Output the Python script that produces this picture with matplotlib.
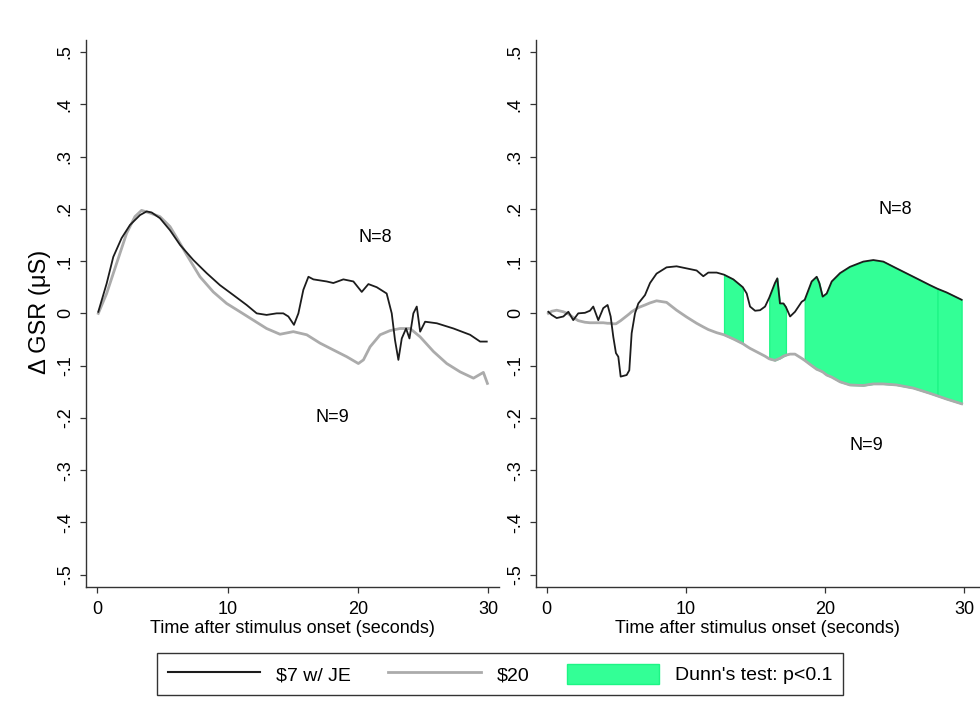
import numpy as np
import matplotlib
matplotlib.use("Agg")
import matplotlib.pyplot as plt
from matplotlib.lines import Line2D
from matplotlib.patches import Patch

plt.rcParams['font.family'] = ['Liberation Sans', 'DejaVu Sans']

# ---- left panel: without significance shading ----
left_t_je = [0.08, 0.72, 1.23, 1.87, 2.51, 3.28, 3.79, 4.17, 4.81, 5.58, 6.35, 7.37,
             8.39, 9.41, 10.44, 11.46, 12.23, 12.99, 13.76, 14.27, 14.66, 15.09, 15.43,
             15.81, 16.2, 16.58, 17.6, 18.11, 18.88, 19.65, 20.29, 20.8, 21.44, 22.2,
             22.59, 22.84, 23.1, 23.36, 23.69, 23.95, 24.25, 24.51, 24.77, 25.15, 26.05,
             27.33, 28.6, 29.37, 29.88]
left_je = [0.003, 0.057, 0.108, 0.144, 0.169, 0.188, 0.195, 0.193, 0.182, 0.159, 0.131,
           0.102, 0.077, 0.054, 0.035, 0.016, 0.0, -0.003, 0.0, 0.0, -0.006, -0.022, 0.0,
           0.045, 0.070, 0.065, 0.061, 0.058, 0.065, 0.061, 0.041, 0.056, 0.050, 0.038,
           0.0, -0.051, -0.089, -0.048, -0.029, -0.048, 0.0, 0.013, -0.035, -0.016,
           -0.019, -0.029, -0.041, -0.054, -0.054]

left_t_20 = [0.08, 0.72, 1.49, 2.25, 2.89, 3.4, 4.04, 4.81, 5.58, 6.35, 6.86, 7.88, 8.9,
             9.92, 10.95, 11.97, 12.99, 14.02, 15.04, 16.07, 17.09, 18.11, 19.14, 20.03,
             20.42, 20.93, 21.7, 22.46, 23.23, 24.0, 24.77, 25.79, 26.81, 27.84, 28.86,
             29.62, 29.93]
left_20 = [0.0, 0.038, 0.096, 0.153, 0.185, 0.197, 0.192, 0.185, 0.166, 0.134, 0.112,
           0.070, 0.041, 0.019, 0.003, -0.013, -0.029, -0.040, -0.035, -0.041, -0.057,
           -0.070, -0.083, -0.096, -0.089, -0.064, -0.041, -0.033, -0.029, -0.029, -0.045,
           -0.073, -0.096, -0.112, -0.124, -0.113, -0.134]

# ---- right panel: both series on a shared time grid ----
right_t = [0.12, 0.36, 0.72, 1.2, 1.56, 1.91, 2.27, 2.75, 3.11, 3.35, 3.71, 4.07, 4.38,
           4.6, 4.79, 4.98, 5.15, 5.32, 5.75, 5.94, 6.11, 6.35, 6.59, 7.07, 7.43, 7.9,
           8.62, 9.34, 10.06, 10.78, 11.26, 11.62, 12.22, 12.75, 13.42, 14.1, 14.38,
           14.62, 14.98, 15.34, 15.7, 16.0, 16.41, 16.58, 16.77, 17.02, 17.2, 17.5,
           17.85, 18.33, 18.55, 19.05, 19.41, 19.6, 19.84, 20.13, 20.49, 21.09, 21.8,
           22.76, 23.48, 24.2, 25.16, 26.36, 27.55, 28.1, 28.75, 29.83]
right_je = [0.003, -0.003, -0.009, -0.006, 0.003, -0.013, 0.0, 0.001, 0.005, 0.013,
            -0.013, 0.010, 0.016, -0.006, -0.045, -0.076, -0.083, -0.121, -0.118, -0.109,
            -0.038, 0.0, 0.019, 0.035, 0.058, 0.076, 0.088, 0.090, 0.086, 0.082, 0.071,
            0.078, 0.078, 0.074, 0.065, 0.050, 0.038, 0.013, 0.005, 0.006, 0.013, 0.030,
            0.058, 0.067, 0.019, 0.019, 0.012, -0.006, 0.003, 0.022, 0.026, 0.061, 0.070,
            0.058, 0.032, 0.038, 0.061, 0.077, 0.089, 0.099, 0.102, 0.099, 0.086, 0.070,
            0.054, 0.047, 0.040, 0.026]
right_20 = [0.0, 0.004, 0.006, 0.003, -0.001, -0.008, -0.014, -0.017, -0.018, -0.018,
            -0.018, -0.018, -0.019, -0.019, -0.020, -0.020, -0.017, -0.014, -0.005, -0.001,
            0.003, 0.007, 0.011, 0.016, 0.020, 0.024, 0.021, 0.006, -0.007, -0.019, -0.026,
            -0.031, -0.037, -0.041, -0.049, -0.058, -0.063, -0.067, -0.072, -0.077, -0.082,
            -0.087, -0.090, -0.088, -0.086, -0.082, -0.080, -0.078, -0.078, -0.086, -0.090,
            -0.100, -0.107, -0.109, -0.112, -0.118, -0.122, -0.131, -0.137, -0.138, -0.135,
            -0.135, -0.137, -0.143, -0.153, -0.158, -0.164, -0.173]

# Dunn's test p<0.1 windows (seconds)
sig_windows = [(12.75, 14.1), (16.0, 17.2), (18.55, 28.1), (28.1, 29.83)]

yticks = [0.5, 0.4, 0.3, 0.2, 0.1, 0.0, -0.1, -0.2, -0.3, -0.4, -0.5]
ytick_labels = [".5", ".4", ".3", ".2", ".1", "0", "-.1", "-.2", "-.3", "-.4", "-.5"]
xticks = [0, 10, 20, 30]

BLACK = "#1c1c1c"
GREY = "#ababab"
GREEN = "#33ff96"
GREEN_EDGE = "#1ef585"
AXC = "#333333"

fig = plt.figure(figsize=(9.8, 7.15), dpi=100)
ax_l = fig.add_axes([0.0874, 0.1794, 0.4218, 0.7647])
ax_r = fig.add_axes([0.5466, 0.1794, 0.4534, 0.7647])


def style_axis(ax, xlim):
    ax.set_xlim(*xlim)
    ax.set_ylim(-0.523, 0.523)
    for side in ("top", "right"):
        ax.spines[side].set_visible(False)
    for side in ("left", "bottom"):
        ax.spines[side].set_color(AXC)
        ax.spines[side].set_linewidth(1.0)
    ax.set_yticks(yticks)
    ax.set_yticklabels(ytick_labels, rotation=90, va="center", fontsize=13)
    ax.set_xticks(xticks)
    ax.set_xticklabels([str(v) for v in xticks], fontsize=13)
    ax.tick_params(direction="out", length=4.5, width=0.9, color=AXC, pad=4)
    ax.tick_params(axis="x", pad=6)
    ax.set_xlabel("Time after stimulus onset (seconds)", fontsize=13, labelpad=1)


# left panel
ax_l.plot(left_t_20, left_20, color=GREY, lw=2.0, zorder=2)
ax_l.plot(left_t_je, left_je, color=BLACK, lw=1.3, zorder=3)
ax_l.text(21.3, 0.146, "N=8", fontsize=13, ha="center", va="center")
ax_l.text(18.0, -0.200, "N=9", fontsize=13, ha="center", va="center")
style_axis(ax_l, (-0.89, 30.82))

# right panel
t = np.array(right_t)
for lo, hi in sig_windows:
    mask = (t >= lo - 1e-9) & (t <= hi + 1e-9)
    ax_r.fill_between(t, right_20, right_je, where=mask, facecolor=GREEN,
                      edgecolor=GREEN_EDGE, lw=0.9, zorder=1)
ax_r.plot(right_t, right_20, color=GREY, lw=2.0, zorder=2)
ax_r.plot(right_t, right_je, color=BLACK, lw=1.3, zorder=3)
ax_r.text(25.04, 0.198, "N=8", fontsize=13, ha="center", va="center")
ax_r.text(22.96, -0.252, "N=9", fontsize=13, ha="center", va="center")
style_axis(ax_r, (-0.79, 31.15))

fig.text(40 / 980, 1 - 312 / 715, "Δ GSR (μS)", rotation=90, fontsize=17,
         ha="center", va="center")

handles = [
    Line2D([0], [0], color=BLACK, lw=1.5),
    Line2D([0], [0], color=GREY, lw=2.0),
    Patch(facecolor=GREEN, edgecolor=GREEN_EDGE, lw=1.0),
]
labels = [r"\$7 w/ JE", r"\$20", "Dunn's test: p<0.1"]
leg = fig.legend(handles, labels, loc="center", bbox_to_anchor=(0.5102, 0.0573),
                 ncol=3, fontsize=14, frameon=True, fancybox=False,
                 handlelength=4.75, handleheight=1.2, handletextpad=0.8,
                 columnspacing=1.95, borderpad=0.55, borderaxespad=0,
                 edgecolor="black")
leg.get_frame().set_linewidth(1.0)

fig.savefig("out.png", dpi=100, facecolor="white")
